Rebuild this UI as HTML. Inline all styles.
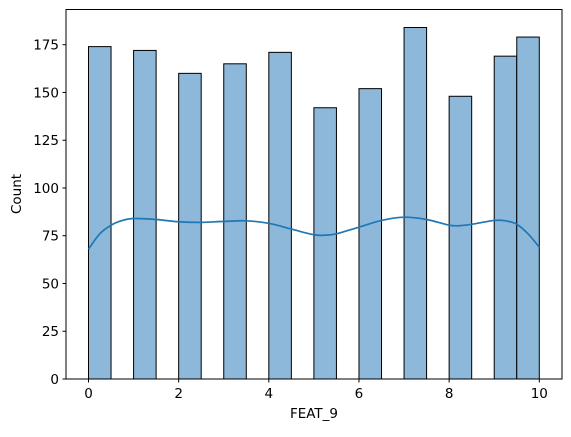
<!DOCTYPE html>
<html><head><meta charset="utf-8"><style>
body{margin:0;background:#fff;}
svg text{font-family:"DejaVu Sans","Liberation Sans",sans-serif;font-size:13.5px;fill:#000;}
</style></head><body>
<svg id="chart" width="571" height="432"></svg>
<script>
const binStarts=[0,1,2,3,4,5,6,7,8,9,9.5];
const counts=[174,172,160,165,171,142,152,184,148,169,179];
const binWidth=0.5;
const kdeX=[0,0.25,0.5,0.75,1,1.5,2,2.5,3,3.5,4,4.5,5,5.25,5.5,6,6.5,7,7.5,8,8.25,8.5,9,9.25,9.5,9.75,10];
const kdeY=[68,76,80.5,83,84,83.5,82.3,82,82.5,82.8,81.5,78.5,75.5,75.3,76,79.5,83,84.7,83.5,80.5,80.3,81,83,82.8,81,76,69];
const xTicks=[0,2,4,6,8,10];
const yTicks=[0,25,50,75,100,125,150,175];
const L=66,R=562,T=9.5,B=379;
const x0=88.5,x10=539.3;
function sx(v){return x0+(x10-x0)*v/10;}
const yPer=(379-44.7)/175;
function sy(v){return B-v*yPer;}
const svg=document.getElementById('chart');
const NS='http://www.w3.org/2000/svg';
function mk(t,a){const e=document.createElementNS(NS,t);for(const k in a)e.setAttribute(k,a[k]);svg.appendChild(e);return e;}
binStarts.forEach((b,i)=>{
  const r=mk('rect',{x:sx(b),y:sy(counts[i]),width:sx(b+binWidth)-sx(b),height:B-sy(counts[i]),fill:'#8db8da',stroke:'#000','stroke-width':1});
  
  
});
const pts=kdeX.map((v,i)=>[sx(v),sy(kdeY[i])]);
let d='M'+pts[0][0]+','+pts[0][1];
for(let i=0;i<pts.length-1;i++){
  const p0=pts[Math.max(0,i-1)],p1=pts[i],p2=pts[i+1],p3=pts[Math.min(pts.length-1,i+2)];
  const c1=[p1[0]+(p2[0]-p0[0])/6,p1[1]+(p2[1]-p0[1])/6];
  const c2=[p2[0]-(p3[0]-p1[0])/6,p2[1]-(p3[1]-p1[1])/6];
  d+=' C'+c1+' '+c2+' '+p2;
}
const kde=mk('path',{d:d,fill:'none',stroke:'#1f77b4','stroke-width':1.7});


const frame=mk('rect',{x:L,y:T,width:R-L,height:B-T,fill:'none',stroke:'#000','stroke-width':1});


xTicks.forEach(v=>{
  const l=mk('line',{x1:sx(v),x2:sx(v),y1:B,y2:B+3.5,stroke:'#000'});
  
  
  const t=mk('text',{x:sx(v),y:B+19,'text-anchor':'middle'});t.textContent=v;
  
  
});
yTicks.forEach(v=>{
  const l=mk('line',{x1:L-3.5,x2:L,y1:sy(v),y2:sy(v),stroke:'#000'});
  
  
  const t=mk('text',{x:L-7,y:sy(v)+5,'text-anchor':'end'});t.textContent=v;
  
  
});
const xl=mk('text',{x:(L+R)/2,y:418,'text-anchor':'middle'});xl.textContent='FEAT_9';


const yl=mk('text',{x:0,y:0,'text-anchor':'middle',transform:'translate(21,194) rotate(-90)'});yl.textContent='Count';


</script>
</body></html>
